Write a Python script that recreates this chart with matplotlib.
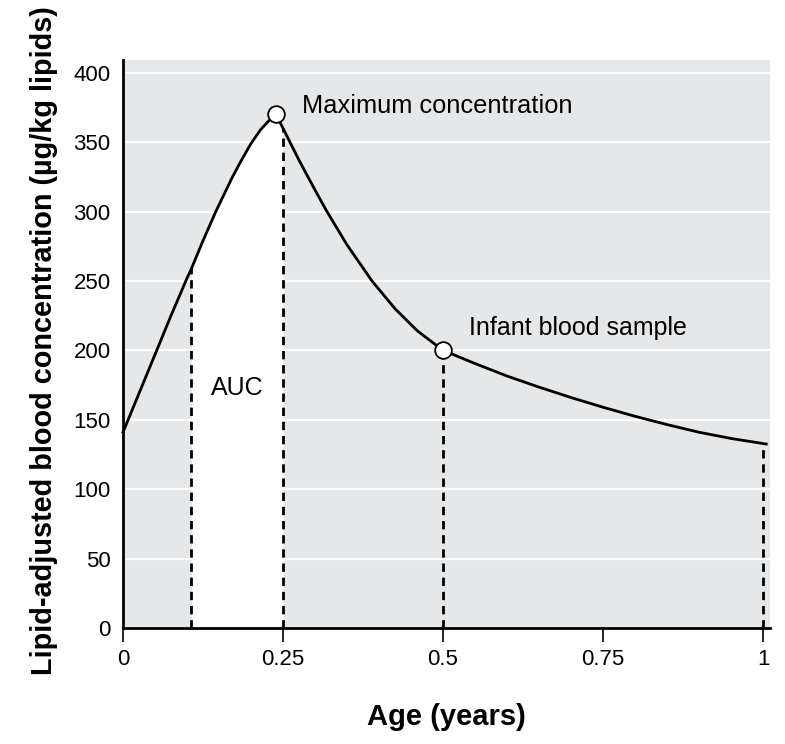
import matplotlib
matplotlib.use("Agg")
import matplotlib.pyplot as plt
import numpy as np

plt.rcParams['font.family'] = ['Liberation Sans', 'DejaVu Sans']

# curve (age in years, concentration in ug/kg lipids)
age = [0, 0.025, 0.05, 0.075, 0.1, 0.107, 0.125, 0.145, 0.17, 0.185,
       0.2, 0.215, 0.227, 0.239,
       0.25, 0.275, 0.3, 0.318, 0.35, 0.389, 0.425, 0.46, 0.5,
       0.55, 0.6, 0.65, 0.7, 0.75, 0.8, 0.85, 0.9, 0.95, 1.005]
conc = [141, 169, 197, 225, 252, 259, 279, 300, 324, 337,
        349, 359, 365, 370,
        360, 337, 315.5, 300.5, 276, 250, 230, 214, 200,
        190.5, 181.5, 173.5, 166, 159, 152.5, 146.5, 141, 136.5, 132.5]

# points marked with circles
marked_age = [0.239, 0.5]
marked_conc = [370, 200]
marked_text = ["Maximum concentration", "Infant blood sample"]

# dashed drop lines
drop_age = [0.107, 0.25, 0.5, 1.0]
drop_conc = [259, 360, 200, 133]

auc_start, auc_end = 0.107, 0.25

x_ticks = [0, 0.25, 0.5, 0.75, 1]
x_tick_labels = ["0", "0.25", "0.5", "0.75", "1"]
y_ticks = [0, 50, 100, 150, 200, 250, 300, 350, 400]

fig = plt.figure(figsize=(7.85, 7.44), dpi=100)
ax = fig.add_axes([0.1567, 0.156, 0.8243, 0.763])
ax.set_facecolor('#e6e7e8')

for y in y_ticks[1:]:
    ax.axhline(y, color='white', lw=1.6, zorder=1)

age_arr = np.array(age)
conc_arr = np.array(conc)
mask = (age_arr >= auc_start) & (age_arr <= auc_end)
ax.fill_between(age_arr[mask], 0, conc_arr[mask], color='white', lw=0, zorder=2)

for xa, ya in zip(drop_age, drop_conc):
    ax.plot([xa, xa], [0, ya], color='black', lw=2.0, ls=(0, (3.0, 2.1)), zorder=3)

ax.plot(age, conc, color='black', lw=2.0, zorder=4, clip_on=False,
        solid_joinstyle='round')
ax.plot(marked_age, marked_conc, 'o', ms=12, mfc='white', mec='black', mew=1.3, zorder=5)

ax.text(0.2797, 376, marked_text[0], fontsize=18.3, va='center', ha='left')
ax.text(0.5406, 216, marked_text[1], fontsize=18, va='center', ha='left')
ax.text(0.178, 173, "AUC", fontsize=18, va='center', ha='center')

ax.set_xlim(0, 1.011)
ax.set_ylim(0, 409)
ax.set_xticks(x_ticks)
ax.set_xticklabels(x_tick_labels)
ax.set_yticks(y_ticks)

for s in ['top', 'right']:
    ax.spines[s].set_visible(False)
for s in ['left', 'bottom']:
    ax.spines[s].set_linewidth(2)

ax.tick_params(axis='y', length=0, pad=9, labelsize=16)
ax.tick_params(axis='x', length=10, width=1.2, direction='out', pad=5, labelsize=16)

ax.set_xlabel("Age (years)", fontsize=21, fontweight='bold', labelpad=24)
ax.set_ylabel("Lipid-adjusted blood concentration (µg/kg lipids)", fontsize=20.8,
              fontweight='bold')
ax.yaxis.set_label_coords(-0.1, 0.507)

fig.savefig("out.png", dpi=100)
